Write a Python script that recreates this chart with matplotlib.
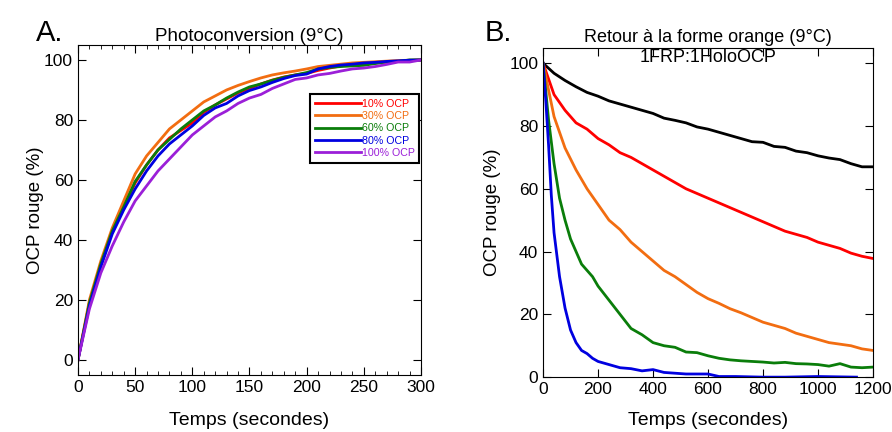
import matplotlib
matplotlib.use('Agg')
import matplotlib.pyplot as plt
from matplotlib.ticker import MultipleLocator
import numpy as np

plt.rcParams['font.family'] = ['Liberation Sans', 'DejaVu Sans']

# PANEL A DATA (photoconversion)
t_a = [0, 10, 20, 30, 40, 50, 60, 70, 80, 90, 100, 110, 120, 130, 140, 150,
       160, 170, 180, 190, 200, 210, 220, 230, 240, 250, 260, 270, 280, 290, 300]
ocp10 = [0, 19, 32, 43, 51, 59, 65, 70, 74, 76.5, 79, 82.5, 85, 87, 89, 90.5,
         92, 93.3, 94.3, 95, 95.5, 96.5, 97.3, 98, 98.5, 98.8, 99, 99.3, 99.6, 99.8, 100]
ocp30 = [0, 20, 33, 44, 53, 62, 68, 72.5, 77, 80, 83, 86, 88, 90, 91.5, 92.8,
         94, 95, 95.7, 96.3, 97, 97.8, 98.2, 98.6, 99, 99.2, 99.4, 99.6, 99.8, 99.9, 100]
ocp60 = [0, 19, 32, 43, 51, 59.5, 65, 70, 73.5, 77, 80, 83, 85, 87.3, 89.3, 91,
         92, 93.2, 94.2, 95, 95.8, 97, 97.5, 97.8, 98, 98.2, 98.8, 99.3, 99.5, 100, 100]
ocp80 = [0, 18, 31, 42, 50, 57, 63, 68, 72, 75, 78, 81.5, 84, 85.5, 88, 89.8,
         91, 92.5, 93.8, 94.8, 95.3, 97, 97.8, 98.3, 98.6, 99, 99.2, 99.5, 99.7, 99.9, 100]
ocp100 = [0, 17, 29, 38, 46, 53, 58, 63, 67, 71, 75, 78, 81, 83, 85.5, 87.3,
          88.5, 90.5, 92, 93.5, 94, 95, 95.5, 96.3, 97, 97.3, 97.8, 98.5, 99.3, 99.3, 100]

series_a = [
    ('10% OCP', ocp10, '#ff0000'),
    ('30% OCP', ocp30, '#f26d11'),
    ('60% OCP', ocp60, '#0a7d0a'),
    ('80% OCP', ocp80, '#0000e0'),
    ('100% OCP', ocp100, '#9b1fd8'),
]

# PANEL B DATA (retour a la forme orange)
t_b = [0, 40, 80, 120, 160, 200, 240, 280, 320, 360, 400, 440, 480, 520, 560, 600,
       640, 680, 720, 760, 800, 840, 880, 920, 960, 1000, 1040, 1080, 1120, 1160, 1200]
black_b = [100, 96.8, 94.5, 92.5, 90.7, 89.5, 88, 87, 86, 85, 84, 82.5, 81.8, 81, 79.7, 79,
           78, 77, 76, 75, 74.8, 73.5, 73.2, 72, 71.5, 70.5, 69.8, 69.3, 68, 67, 67]
red_b = [100, 90, 85, 81, 79, 76, 74, 71.5, 70, 68, 66, 64, 62, 60, 58.5, 57,
         55.5, 54, 52.5, 51, 49.5, 48, 46.5, 45.5, 44.5, 43, 42, 41, 39.5, 38.5, 37.8]
orange_b = [100, 83, 73, 66, 60, 55, 50, 47, 43, 40, 37, 34, 32, 29.5, 27, 25,
            23.5, 21.8, 20.5, 19, 17.5, 16.5, 15.5, 14, 13, 12, 11, 10.5, 10, 9, 8.5]

t_green = [0, 20, 40, 60, 80, 100, 120, 140, 160, 180, 200, 240, 280, 320, 360, 400, 440,
           480, 520, 560, 600, 640, 680, 720, 760, 800, 840, 880, 920, 960, 1000,
           1040, 1080, 1120, 1160, 1200]
green_b = [100, 82, 68, 57, 50, 44, 40, 36, 34, 32, 29, 24.5, 20, 15.5, 13.5, 11, 10,
           9.5, 8, 7.8, 6.8, 6, 5.5, 5.2, 5, 4.8, 4.5, 4.7, 4.3, 4.2, 4.0,
           3.5, 4.3, 3.2, 3.0, 3.2]

t_blue = [0, 10, 20, 30, 40, 60, 80, 100, 120, 140, 160, 180, 200, 240, 280, 320, 360,
          400, 440, 520, 600, 640, 700, 800, 880, 1000, 1140]
blue_b = [100, 88, 74, 58, 46, 32, 22, 15, 11, 8.5, 7.5, 6, 5, 4, 3, 2.7, 2,
          2.4, 1.5, 1, 1, 0.2, 0.2, 0, 0, 0.2, 0]

fig = plt.figure(figsize=(8.92, 4.32), dpi=100)

# PANEL A
ax1 = fig.add_axes([0.0874, 0.132, 0.3846, 0.764])
for label, vals, col in series_a:
    ax1.plot(t_a, vals, color=col, lw=2, label=label)
ax1.set_xlim(0, 300)
ax1.set_ylim(-5, 105)
ax1.xaxis.set_major_locator(MultipleLocator(50))
ax1.xaxis.set_minor_locator(MultipleLocator(10))
ax1.yaxis.set_major_locator(MultipleLocator(20))
ax1.tick_params(which='both', direction='in', top=True, right=True, labelsize=12.5)
ax1.tick_params(which='major', length=6)
ax1.tick_params(which='minor', length=3)
ax1.set_xlabel('Temps (secondes)', fontsize=14, labelpad=12.5)
ax1.set_ylabel('OCP rouge (%)', fontsize=13.5, labelpad=0)
ax1.set_title('Photoconversion (9°C)', fontsize=13.5, pad=2)
leg = ax1.legend(loc='upper right', bbox_to_anchor=(0.995, 0.852), fontsize=7.7,
                 fancybox=False, framealpha=1, edgecolor='black',
                 handlelength=4.3, handletextpad=0.1, labelspacing=0.22,
                 borderpad=0.45, borderaxespad=0)
leg.get_frame().set_linewidth(1.5)
for txt, (_, _, col) in zip(leg.get_texts(), series_a):
    txt.set_color(col)
fig.text(0.040, 0.905, 'A.', fontsize=21)

# PANEL B
ax2 = fig.add_axes([0.6088, 0.127, 0.3699, 0.763])
ax2.plot(t_b, black_b, color='black', lw=2)
ax2.plot(t_b, red_b, color='#ff0000', lw=2)
ax2.plot(t_b, orange_b, color='#f26d11', lw=2)
ax2.plot(t_green, green_b, color='#0a7d0a', lw=2)
ax2.plot(t_blue, blue_b, color='#0000e0', lw=2)
ax2.set_xlim(0, 1200)
ax2.set_ylim(0, 105)
ax2.xaxis.set_major_locator(MultipleLocator(200))
ax2.yaxis.set_major_locator(MultipleLocator(20))
ax2.tick_params(which='both', direction='in', top=True, right=True, labelsize=12.5, length=6)
ax2.set_xlabel('Temps (secondes)', fontsize=14, labelpad=11)
ax2.set_ylabel('OCP rouge (%)', fontsize=13.5, labelpad=6)
ax2.text(0.5, 1.03, 'Retour à la forme orange (9°C)', transform=ax2.transAxes,
         ha='center', va='center', fontsize=13)
ax2.text(0.5, 0.97, '1FRP:1HoloOCP', transform=ax2.transAxes,
         ha='center', va='center', fontsize=13)
fig.text(0.543, 0.905, 'B.', fontsize=21)

fig.savefig('out.png', dpi=100)
